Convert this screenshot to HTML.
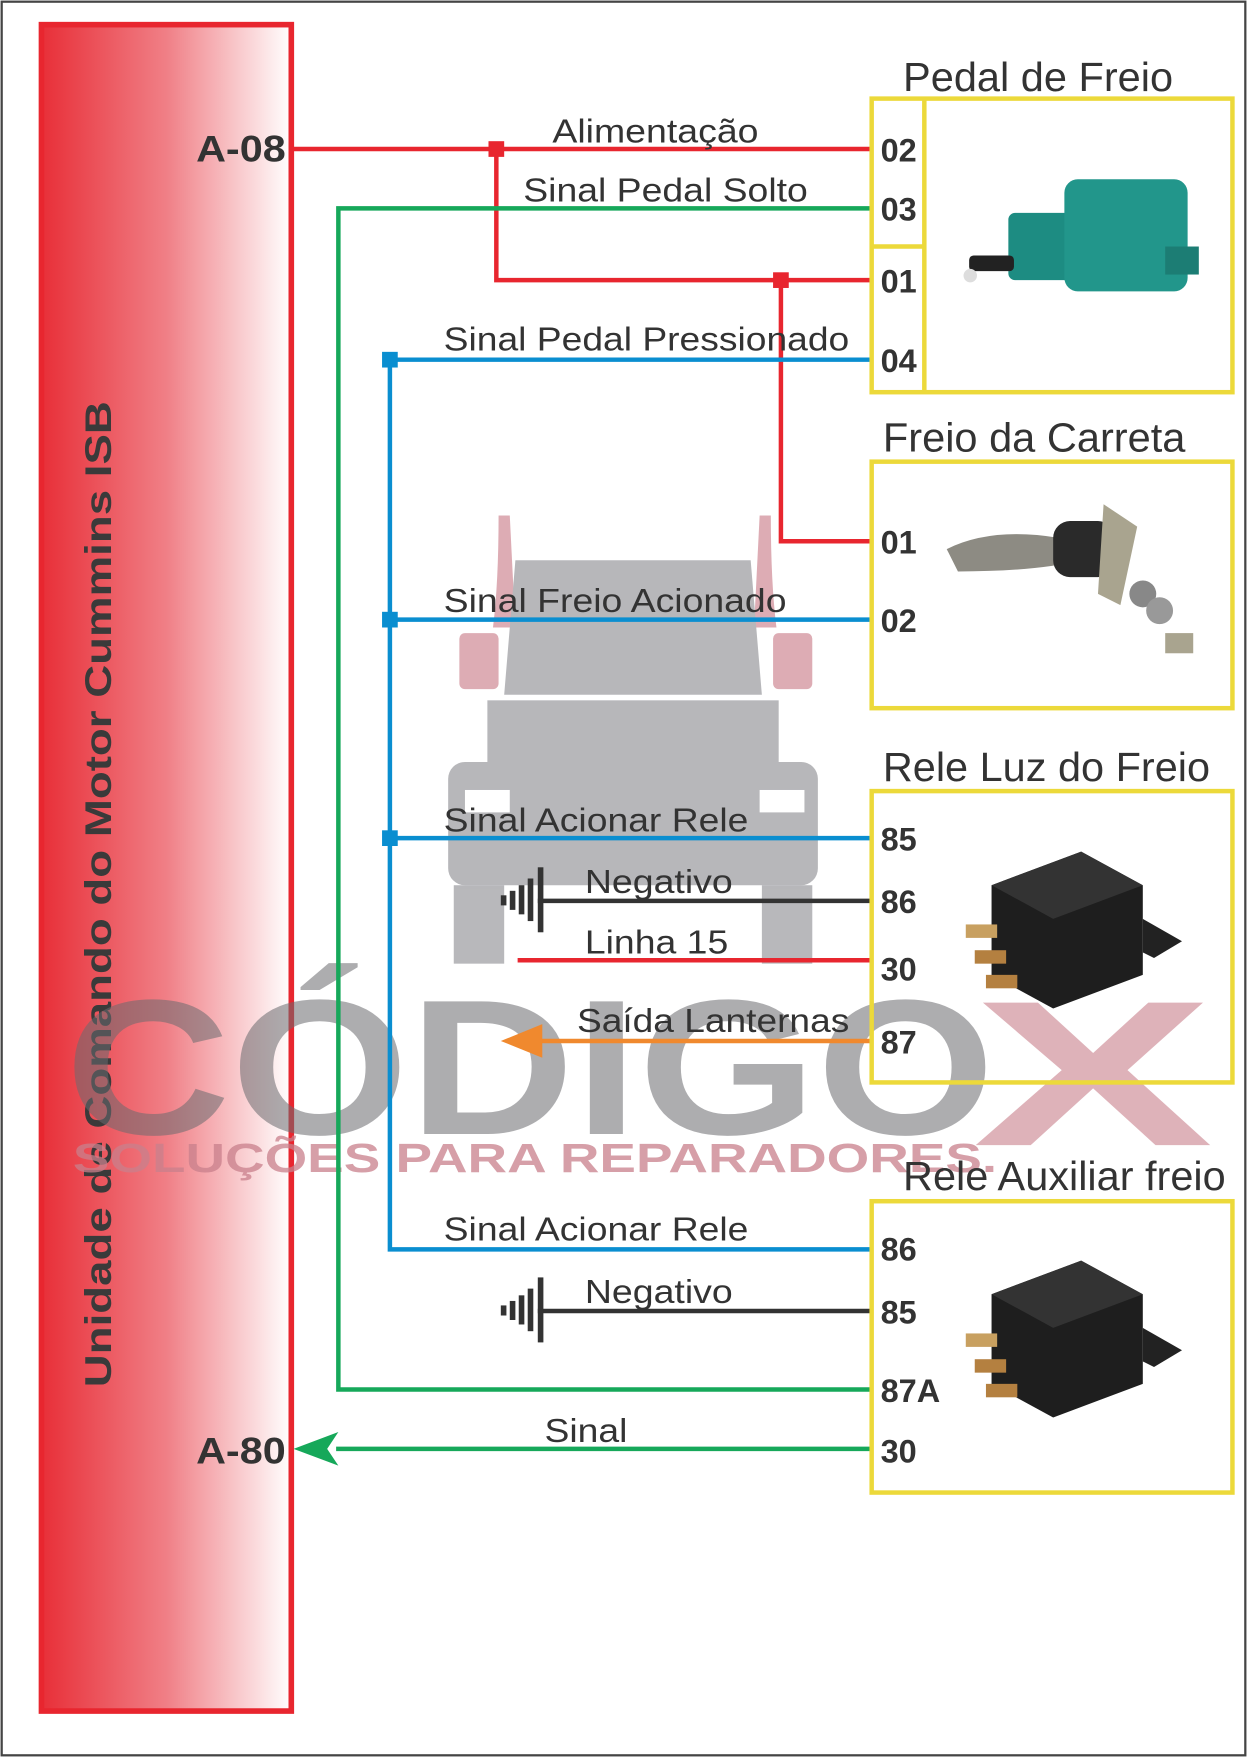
<!DOCTYPE html>
<html><head><meta charset="utf-8"><style>
html,body{margin:0;padding:0;background:#fff}
svg{display:block}
text{font-family:"Liberation Sans",sans-serif}
</style></head><body>
<svg width="1247" height="1757" viewBox="0 0 1113 1568" preserveAspectRatio="none" xmlns="http://www.w3.org/2000/svg">
<defs>
<linearGradient id="ecu" x1="0" x2="1" y1="0" y2="0">
<stop offset="0" stop-color="#e82f38"/><stop offset="0.5" stop-color="#f07f86"/><stop offset="1" stop-color="#ffffff"/>
</linearGradient>
</defs>
<rect x="1.5" y="1.5" width="1110" height="1565" fill="#fff" stroke="#444" stroke-width="2"/>
<!-- watermark truck -->
<g opacity="0.55">
<path d="M445 460 q0 60 -5 100 l20 0 l-5 -100z" fill="#c26a78"/>
<path d="M688 460 q0 60 5 100 l-20 0 l5 -100z" fill="#c26a78"/>
<rect x="410" y="565" width="35" height="50" rx="5" fill="#c26a78"/>
<rect x="690" y="565" width="35" height="50" rx="5" fill="#c26a78"/>
<path d="M460 500 h210 l10 120 h-230z" fill="#7d7d83"/>
<rect x="435" y="625" width="260" height="110" fill="#7d7d83"/>
<rect x="400" y="680" width="330" height="110" rx="15" fill="#7d7d83"/>
<rect x="405" y="790" width="45" height="70" fill="#7d7d83"/>
<rect x="680" y="790" width="45" height="70" fill="#7d7d83"/>
<rect x="415" y="705" width="40" height="20" fill="#fff"/>
<rect x="678" y="705" width="40" height="20" fill="#fff"/>
</g>

<!-- ECU -->
<rect x="37" y="22" width="223" height="1505" fill="url(#ecu)" stroke="#e8262f" stroke-width="5"/>
<text transform="translate(99,1238) rotate(-90)" font-size="33" font-weight="bold" fill="#3a3a3a" textLength="880" lengthAdjust="spacingAndGlyphs">Unidade de Comando do Motor Cummins ISB</text>
<text x="175" y="144" font-size="33" font-weight="bold" fill="#333" textLength="80" lengthAdjust="spacingAndGlyphs">A-08</text>
<text x="175" y="1306" font-size="33" font-weight="bold" fill="#333" textLength="80" lengthAdjust="spacingAndGlyphs">A-80</text>

<!-- watermark text on top -->
<text x="58" y="1012" font-size="172" font-weight="bold" fill="#6b6b6f" opacity="0.55" textLength="830" lengthAdjust="spacingAndGlyphs">CÓDIGO</text>
<text x="868" y="1022" font-size="185" font-weight="bold" fill="#c9808c" opacity="0.6" textLength="215" lengthAdjust="spacingAndGlyphs">X</text>
<text x="65" y="1046" font-size="36" font-weight="bold" fill="#c9808c" opacity="0.75" textLength="825" lengthAdjust="spacingAndGlyphs">SOLUÇÕES PARA REPARADORES.</text>

<!-- wires -->
<g fill="none" stroke-width="4">
<path d="M260 133 H778" stroke="#e8262f"/>
<path d="M443 133 V250 H778" stroke="#e8262f"/>
<path d="M697 250 V483 H778" stroke="#e8262f"/>
<path d="M462 857 H778" stroke="#e8262f"/>
<path d="M778 186 H302 V1240 H778" stroke="#16a85a"/>
<path d="M300 1293 H778" stroke="#16a85a"/>
<path d="M348 321 V1115 H778" stroke="#0a8ed0"/>
<path d="M348 321 H778 M348 553 H778 M348 748 H778" stroke="#0a8ed0"/>
<path d="M480 804 H778 M480 1170 H778" stroke="#333"/>
<path d="M470 929 H778" stroke="#f0892e"/>
</g>
<g fill="#e8262f"><rect x="436" y="126" width="14" height="14"/><rect x="690" y="243" width="14" height="14"/></g>
<g fill="#0a8ed0"><rect x="341" y="314" width="14" height="14"/><rect x="341" y="546" width="14" height="14"/><rect x="341" y="741" width="14" height="14"/></g>
<polygon points="262,1293 302,1278 292,1293 302,1308" fill="#16a85a"/>
<polygon points="447,929 484,914 484,944" fill="#f0892e"/>
<!-- grounds -->
<g fill="#333">
<rect x="480" y="774" width="5" height="58"/><rect x="471" y="784" width="5" height="38"/><rect x="463" y="790" width="5" height="26"/><rect x="455" y="795" width="5" height="17"/><rect x="447" y="799" width="5" height="9"/>
<rect x="480" y="1140" width="5" height="58"/><rect x="471" y="1150" width="5" height="38"/><rect x="463" y="1156" width="5" height="26"/><rect x="455" y="1161" width="5" height="17"/><rect x="447" y="1165" width="5" height="9"/>
</g>

<!-- wire labels -->
<g font-size="30" fill="#333" lengthAdjust="spacingAndGlyphs">
<text x="493" y="127" textLength="184" lengthAdjust="spacingAndGlyphs">Alimentação</text>
<text x="467" y="180" textLength="254" lengthAdjust="spacingAndGlyphs">Sinal Pedal Solto</text>
<text x="396" y="313" textLength="362" lengthAdjust="spacingAndGlyphs">Sinal Pedal Pressionado</text>
<text x="396" y="546" textLength="306" lengthAdjust="spacingAndGlyphs">Sinal Freio Acionado</text>
<text x="396" y="742" textLength="272" lengthAdjust="spacingAndGlyphs">Sinal Acionar Rele</text>
<text x="522" y="797" textLength="132" lengthAdjust="spacingAndGlyphs">Negativo</text>
<text x="522" y="851" textLength="128" lengthAdjust="spacingAndGlyphs">Linha 15</text>
<text x="515" y="921" textLength="243" lengthAdjust="spacingAndGlyphs">Saída Lanternas</text>
<text x="396" y="1107" textLength="272" lengthAdjust="spacingAndGlyphs">Sinal Acionar Rele</text>
<text x="522" y="1163" textLength="132" lengthAdjust="spacingAndGlyphs">Negativo</text>
<text x="486" y="1287" textLength="74" lengthAdjust="spacingAndGlyphs">Sinal</text>
</g>

<!-- boxes -->
<g fill="none" stroke="#ecd93a" stroke-width="4">
<rect x="778" y="88" width="322" height="262"/><path d="M825 88 V350 M778 220 H825"/>
<rect x="778" y="412" width="322" height="220"/>
<rect x="778" y="706" width="322" height="260"/>
<rect x="778" y="1072" width="322" height="260"/>
</g>
<g font-size="36" fill="#333">
<text x="806" y="81" textLength="241" lengthAdjust="spacingAndGlyphs">Pedal de Freio</text>
<text x="788" y="403" textLength="270" lengthAdjust="spacingAndGlyphs">Freio da Carreta</text>
<text x="788" y="697" textLength="292" lengthAdjust="spacingAndGlyphs">Rele Luz do Freio</text>
<text x="806" y="1062" textLength="288" lengthAdjust="spacingAndGlyphs">Rele Auxiliar freio</text>
</g>
<g font-size="29" font-weight="bold" fill="#333">
<text x="786" y="144">02</text><text x="786" y="197">03</text><text x="786" y="261">01</text><text x="786" y="332">04</text>
<text x="786" y="494">01</text><text x="786" y="564">02</text>
<text x="786" y="759">85</text><text x="786" y="815">86</text><text x="786" y="875">30</text><text x="786" y="940">87</text>
<text x="786" y="1125">86</text><text x="786" y="1181">85</text><text x="786" y="1251">87A</text><text x="786" y="1305">30</text>
</g>

<!-- device images approx -->
<g>
<rect x="900" y="190" width="60" height="60" rx="6" fill="#1d8c82"/>
<rect x="950" y="160" width="110" height="100" rx="12" fill="#22968b"/>
<rect x="1040" y="220" width="30" height="25" fill="#1c7d74"/>
<rect x="865" y="228" width="40" height="14" rx="4" fill="#222"/>
<circle cx="866" cy="246" r="6" fill="#ddd"/>
</g>
<g>
<path d="M845 490 q40 -20 100 -10 l20 20 q-40 10 -110 10z" fill="#8d8b83"/>
<rect x="940" y="465" width="55" height="50" rx="15" fill="#2a2a2a"/>
<path d="M985 450 l30 20 -15 70 -20 -10z" fill="#a9a48f"/>
<circle cx="1020" cy="530" r="12" fill="#888"/><circle cx="1035" cy="545" r="12" fill="#999"/>
<rect x="1040" y="565" width="25" height="18" fill="#a9a48f"/>
</g>
<g id="relay">
<polygon points="885,790 965,760 1020,790 1020,870 940,900 885,870" fill="#1e1e1e"/>
<polygon points="885,790 965,760 1020,790 940,820" fill="#333"/>
<polygon points="1020,820 1055,840 1030,855 1020,850" fill="#222"/>
<rect x="862" y="825" width="28" height="12" fill="#c8a060"/>
<rect x="870" y="848" width="28" height="12" fill="#b48040"/>
<rect x="880" y="870" width="28" height="12" fill="#b48040"/>
</g>
<use href="#relay" transform="translate(0,365)"/>
</svg>
</body></html>
